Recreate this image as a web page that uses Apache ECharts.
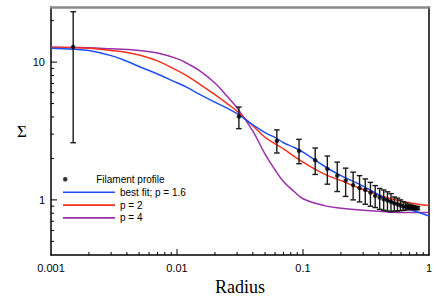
<!DOCTYPE html>
<html><head><meta charset="utf-8">
<script src="https://cdn.jsdelivr.net/npm/echarts@6/dist/echarts.min.js"></script>
<style>html,body{margin:0;padding:0;background:#fff}#c{width:436px;height:308px}</style>
</head><body><div id="c"></div>
<script>
// Model curve sample radii and values
const radiusGrid = [0.001, 0.0015, 0.002, 0.003, 0.004, 0.005, 0.007, 0.01, 0.012, 0.015, 0.02, 0.025, 0.03, 0.04, 0.05, 0.06, 0.07, 0.085, 0.1, 0.15, 0.2, 0.3, 0.5, 0.7, 1];
const bestFitP16 = [12.6, 12.4, 12.15, 11.15, 10.15, 9.3, 8.2, 7.08, 6.55, 5.86, 5.12, 4.63, 4.22, 3.5, 3.08, 2.84, 2.6, 2.4, 2.22, 1.74, 1.5, 1.26, 0.97, 0.855, 0.765];
const modelP2 = [12.83, 12.73, 12.6, 12.15, 11.75, 11.25, 10.2, 8.7, 7.95, 6.95, 5.8, 5.0, 4.4, 3.45, 2.85, 2.55, 2.35, 2.07, 1.88, 1.53, 1.38, 1.19, 1.02, 0.955, 0.91];
const modelP4 = [12.8, 12.75, 12.7, 12.5, 12.35, 12.15, 11.65, 10.6, 9.8, 8.7, 7.05, 5.65, 4.65, 3.15, 2.15, 1.65, 1.36, 1.15, 1.02, 0.905, 0.87, 0.84, 0.815, 0.81, 0.81];

// Filament profile data points with error bars
const profileRadius = [0.0015, 0.031, 0.062, 0.093, 0.125, 0.156, 0.187, 0.218, 0.25, 0.281, 0.312, 0.343, 0.374, 0.406, 0.437, 0.468, 0.499, 0.53, 0.562, 0.593, 0.624, 0.655, 0.686, 0.718, 0.749, 0.78, 0.811];
const profileSigma = [12.9, 4.03, 2.68, 2.27, 1.94, 1.68, 1.5, 1.38, 1.28, 1.22, 1.18, 1.13, 1.07, 1.04, 1.01, 0.99, 0.97, 0.945, 0.93, 0.914, 0.9, 0.893, 0.888, 0.884, 0.88, 0.875, 0.87];
const profileLow = [2.6, 3.29, 2.19, 1.83, 1.53, 1.3, 1.15, 1.06, 1.0, 0.967, 0.93, 0.9, 0.88, 0.854, 0.84, 0.83, 0.82, 0.83, 0.83, 0.835, 0.84, 0.845, 0.85, 0.85, 0.85, 0.85, 0.85];
const profileHigh = [23.2, 4.72, 3.22, 2.75, 2.38, 2.08, 1.88, 1.7, 1.59, 1.5, 1.42, 1.34, 1.27, 1.21, 1.18, 1.145, 1.11, 1.05, 1.03, 1.0, 0.97, 0.95, 0.93, 0.92, 0.91, 0.9, 0.895];

// Tick marks and labels
const xTickLabels = [0.001, 0.01, 0.1, 1];
const yTickLabels = [1, 10];
const xMajorTicks = [0.01, 0.1];
const xMinorTicks = [0.002, 0.003, 0.004, 0.005, 0.006, 0.007, 0.008, 0.009, 0.02, 0.03, 0.04, 0.05, 0.06, 0.07, 0.08, 0.09, 0.2, 0.3, 0.4, 0.5, 0.6, 0.7, 0.8, 0.9];
const yMajorTicks = [1, 10];
const yMinorTicks = [0.5, 0.6, 0.7, 0.8, 0.9, 2, 3, 4, 5, 6, 7, 8, 9, 20];

const X_MIN = 0.001, X_MAX = 1;
const Y_MIN = Math.pow(10, -0.4), Y_MAX = Math.pow(10, 1.4);

function labelFmt(list) {
  return function (v) {
    const hit = list.find(t => Math.abs(Math.log10(v) - Math.log10(t)) < 1e-4);
    return hit !== undefined ? String(hit) : '';
  };
}

const tickData = []
  .concat(xMinorTicks.map(v => [v, Y_MIN, 0]))
  .concat(xMajorTicks.map(v => [v, Y_MIN, 1]))
  .concat(yMinorTicks.map(v => [X_MIN, v, 2]))
  .concat(yMajorTicks.map(v => [X_MIN, v, 3]));

const chart = echarts.init(document.getElementById('c'), null, {renderer: 'svg'});
const sans = 'Liberation Sans, Arial, sans-serif';

chart.setOption({
  animation: false,
  backgroundColor: '#fff',
  grid: {left: 51, right: 7, top: 7, bottom: 53, containLabel: false},
  legend: [
    {
      data: [{name: 'Filament profile', icon: 'circle'}],
      left: 58, top: 169.3, itemWidth: 52, itemHeight: 4.5,
      textStyle: {fontFamily: sans, fontSize: 10, color: '#000'},
      selectedMode: false
    },
    {
      data: [
        {name: 'best fit; p = 1.6', icon: 'rect'},
        {name: 'p = 2', icon: 'rect'},
        {name: 'p = 4', icon: 'rect'}
      ],
      orient: 'vertical', left: 58, top: 182.3, itemWidth: 52, itemHeight: 1.6, itemGap: 2.8,
      textStyle: {fontFamily: sans, fontSize: 10, color: '#000'},
      selectedMode: false
    }
  ],
  xAxis: [
    {
      type: 'log', logBase: 10, min: X_MIN, max: X_MAX, position: 'bottom',
      axisLine: {lineStyle: {color: '#000', width: 1.5}},
      axisTick: {show: false}, splitLine: {show: false}, minorTick: {show: false},
      axisLabel: {formatter: labelFmt(xTickLabels), fontFamily: sans, fontSize: 11, color: '#000', margin: 7, interval: 0, showMinLabel: true, showMaxLabel: true},
      name: 'Radius', nameLocation: 'middle', nameGap: 21,
      nameTextStyle: {fontFamily: 'Liberation Serif, Times New Roman, serif', fontSize: 18, color: '#000'}
    },
    {
      type: 'log', logBase: 10, min: X_MIN, max: X_MAX, position: 'top',
      axisLine: {lineStyle: {color: '#8a8a8a', width: 2.5}},
      axisTick: {show: false}, axisLabel: {show: false}, splitLine: {show: false}
    }
  ],
  yAxis: [
    {
      type: 'log', logBase: 10, min: Y_MIN, max: Y_MAX, position: 'left',
      axisLine: {lineStyle: {color: '#000', width: 1.5}},
      axisTick: {show: false}, splitLine: {show: false}, minorTick: {show: false},
      axisLabel: {formatter: labelFmt(yTickLabels), fontFamily: sans, fontSize: 11, color: '#000', margin: 6, interval: 0, showMinLabel: true, showMaxLabel: true},
      name: 'Σ', nameLocation: 'middle', nameRotate: 0, nameGap: 24,
      nameTextStyle: {fontFamily: 'Liberation Serif, Times New Roman, serif', fontSize: 17, color: '#000', padding: [0, 0, 6, 0]}
    },
    {
      type: 'log', logBase: 10, min: Y_MIN, max: Y_MAX, position: 'right',
      axisLine: {lineStyle: {color: '#000', width: 1.5}},
      axisTick: {show: false}, axisLabel: {show: false}, splitLine: {show: false}
    }
  ],
  series: [
    {
      name: 'p = 4', type: 'line', smooth: 0.4, symbol: 'none',
      data: radiusGrid.map((r, i) => [r, modelP4[i]]),
      lineStyle: {color: '#9b2fa8', width: 1.5}, itemStyle: {color: '#9b2fa8'}, z: 2
    },
    {
      name: 'p = 2', type: 'line', smooth: 0.4, symbol: 'none',
      data: radiusGrid.map((r, i) => [r, modelP2[i]]),
      lineStyle: {color: '#f5301c', width: 1.5}, itemStyle: {color: '#f5301c'}, z: 3
    },
    {
      name: 'best fit; p = 1.6', type: 'line', smooth: 0.4, symbol: 'none',
      data: radiusGrid.map((r, i) => [r, bestFitP16[i]]),
      lineStyle: {color: '#1f4ef5', width: 1.5}, itemStyle: {color: '#1f4ef5'}, z: 4
    },
    {
      type: 'custom', silent: true, z: 5,
      data: profileRadius.map((r, i) => [r, profileLow[i], profileHigh[i]]),
      encode: {x: 0, y: [1, 2]},
      renderItem: function (params, api) {
        const x = api.value(0);
        const lo = api.coord([x, api.value(1)]);
        const hi = api.coord([x, api.value(2)]);
        const cap = 2.8;
        const st = {stroke: '#1a1a1a', lineWidth: 1.4};
        return {type: 'group', children: [
          {type: 'line', shape: {x1: lo[0], y1: lo[1], x2: hi[0], y2: hi[1]}, style: st},
          {type: 'line', shape: {x1: hi[0] - cap, y1: hi[1], x2: hi[0] + cap, y2: hi[1]}, style: st},
          {type: 'line', shape: {x1: lo[0] - cap, y1: lo[1], x2: lo[0] + cap, y2: lo[1]}, style: st}
        ]};
      }
    },
    {
      name: 'Filament profile', type: 'scatter', symbol: 'circle', symbolSize: 4.5,
      data: profileRadius.map((r, i) => [r, profileSigma[i]]),
      itemStyle: {color: '#000'}, z: 6
    },
    {
      type: 'custom', silent: true, z: 7,
      data: tickData,
      encode: {x: 0, y: 1},
      renderItem: function (params, api) {
        const kind = api.value(2);
        const p = api.coord([api.value(0), api.value(1)]);
        const len = (kind === 1 || kind === 3) ? 6 : 3;
        const st = {stroke: '#000', lineWidth: 1};
        if (kind <= 1) {
          return {type: 'line', shape: {x1: p[0], y1: p[1], x2: p[0], y2: p[1] - len}, style: st};
        }
        return {type: 'line', shape: {x1: p[0], y1: p[1], x2: p[0] + len, y2: p[1]}, style: st};
      }
    }
  ]
});
</script>
</body></html>
